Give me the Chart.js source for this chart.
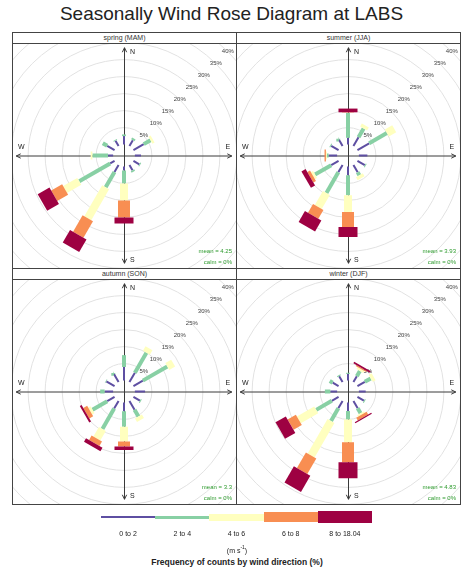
<!DOCTYPE html>
<html><head><meta charset="utf-8">
<script src="https://cdn.jsdelivr.net/npm/chart.js@4.4.1/dist/chart.umd.min.js"></script>
<style>
body{margin:0;width:463px;height:571px;background:#fff;font-family:"Liberation Sans",Arial,sans-serif;position:relative;overflow:hidden}
.abs{position:absolute}
#title{left:0;width:463px;top:3px;text-align:center;font-size:19px;line-height:22px;color:#222}
.strip{box-sizing:border-box;border:1px solid #444;text-align:center;font-size:7px;line-height:9px;color:#333;background:#fff}
.frame{box-sizing:border-box;border:1px solid #444;pointer-events:none}
canvas{position:absolute}
.lgbar{position:absolute}
.lglab{position:absolute;font-size:7px;color:#222;transform:translate(-50%,-50%);white-space:nowrap}
</style></head>
<body>
<div id="title" class="abs">Seasonally Wind Rose Diagram at LABS</div>
<div id="panels"></div>
<div id="legend"></div>
<script>
// ---------------- data ----------------
const directions = [0, 30, 60, 90, 120, 150, 180, 210, 240, 270, 300, 330];
const speedBins = ["0 to 2", "2 to 4", "4 to 6", "6 to 8", "8 to 18.04"];
const seasons = ["spring (MAM)", "summer (JJA)", "autumn (SON)", "winter (DJF)"];
const ringTicks = [5, 10, 15, 20, 25, 30, 35, 40];
const meanSpeed = ["4.25", "3.93", "3.3", "4.83"];
const calmPct = ["0%", "0%", "0%", "0%"];
// frequency (%) per direction (rows) and speed bin (columns)
const springFreq = [
  [2.5, 0.5, 0, 0, 0], [2.0, 0.6, 0, 0, 0], [3.5, 2.3, 0.7, 0, 0], [1.8, 0, 0, 0, 0],
  [2.0, 0.3, 0, 0, 0], [1.8, 0.5, 0, 0, 0], [1.2, 3.8, 5.0, 5.0, 1.8], [2.4, 5.2, 10.5, 5.6, 4.3],
  [1.5, 10.5, 4.8, 3.7, 4.0], [1.5, 4.6, 0.5, 0, 0], [2.5, 1.5, 0, 0, 0], [1.8, 0.3, 0, 0, 0]
];
const summerFreq = [
  [2.0, 7.3, 0.1, 0.1, 1.1], [3.0, 3.0, 1.0, 0, 0], [4.0, 6.0, 2.5, 0, 0], [2.5, 0, 0, 0, 0],
  [2.5, 0.3, 0, 0, 0], [2.5, 1.0, 1.0, 0, 0], [2.6, 5.9, 4.9, 4.4, 3.0], [2.5, 7.0, 4.8, 3.0, 3.7],
  [2.5, 5.5, 0.7, 0.9, 1.4], [2.5, 0.5, 0.3, 0.4, 0], [2.5, 0.3, 0, 0, 0], [2.2, 0.3, 0, 0, 0]
];
const autumnFreq = [
  [4.0, 3.5, 0, 0, 0], [3.2, 6.8, 1.5, 0, 0], [3.2, 8.3, 2.0, 0, 0], [3.0, 0, 0, 0, 0],
  [2.2, 0.3, 0, 0, 0], [3.0, 2.3, 1.2, 0, 0], [2.6, 4.6, 4.3, 1.5, 1.0], [2.6, 6.9, 3.3, 1.5, 1.2],
  [2.5, 5.0, 0.8, 1.3, 0.6], [2.5, 1.3, 0, 0, 0], [2.8, 0.2, 0, 0, 0], [2.8, 0.3, 0, 0, 0]
];
const winterFreq = [
  [2.0, 0.3, 0, 0, 0], [2.0, 1.8, 0.6, 0.4, 0.5], [2.5, 2.0, 1.0, 0, 0], [2.0, 0, 0, 0, 0],
  [2.2, 0.3, 0, 0, 0], [2.5, 1.7, 0.5, 0.9, 0.4], [2.5, 2.5, 6.7, 5.9, 4.7], [2.5, 4.3, 11.7, 5.3, 5.5],
  [2.3, 5.3, 5.9, 2.8, 3.5], [2.0, 1.6, 0, 0, 0], [2.0, 1.0, 0, 0, 0], [2.0, 0.3, 0, 0, 0]
];
const seasonFreq = [springFreq, summerFreq, autumnFreq, winterFreq];

// ---------------- style ----------------
const binColours = ["#5E4FA2", "#88D0A4", "#FFFFBF", "#F88E52", "#9E0142"];
const binWidths = [2, 4, 8, 12, 19];
const legendHeights = [2, 3, 7, 10, 12];
const HOLE = 3.2;        // centre offset (in % units)
const PPU = 3.4;         // pixels per %
const AXIS = 31.7;       // axis half length (% units)

const panelBoxes = [
  {x: 12, y: 32, w: 224, h: 236},
  {x: 236, y: 32, w: 224, h: 236},
  {x: 12, y: 268, w: 224, h: 236},
  {x: 236, y: 268, w: 224, h: 236}
];
const STRIP = 11;

const roseGrid = {
  id: 'roseGrid',
  beforeDatasetsDraw(chart) {
    const {ctx, chartArea: a, scales: {x, y}} = chart;
    const cx = x.getPixelForValue(0), cy = y.getPixelForValue(0);
    const ppu = x.getPixelForValue(1) - cx;
    ctx.save();
    ctx.beginPath(); ctx.rect(a.left, a.top, a.width, a.height); ctx.clip();
    ctx.strokeStyle = '#E2E2E2'; ctx.lineWidth = 1;
    ringTicks.forEach(t => {
      ctx.beginPath(); ctx.arc(cx, cy, (HOLE + t) * ppu, 0, Math.PI * 2); ctx.stroke();
    });
    // axes with arrows
    ctx.strokeStyle = '#3a3a3a'; ctx.lineWidth = 1;
    const L = AXIS * ppu;
    ctx.beginPath();
    ctx.moveTo(cx - L, cy + 0.5); ctx.lineTo(cx + L, cy + 0.5);
    ctx.moveTo(cx + 0.5, cy - L); ctx.lineTo(cx + 0.5, cy + L);
    const head = (tx, ty, ang) => {
      const h = 5, sp = 0.45;
      ctx.moveTo(tx, ty); ctx.lineTo(tx - h * Math.cos(ang - sp), ty - h * Math.sin(ang - sp));
      ctx.moveTo(tx, ty); ctx.lineTo(tx - h * Math.cos(ang + sp), ty - h * Math.sin(ang + sp));
    };
    head(cx + L, cy + 0.5, 0); head(cx - L, cy + 0.5, Math.PI);
    head(cx + 0.5, cy - L, -Math.PI / 2); head(cx + 0.5, cy + L, Math.PI / 2);
    ctx.stroke();
    ctx.fillStyle = '#222'; ctx.font = '7px "Liberation Sans", Arial, sans-serif';
    ctx.textBaseline = 'middle';
    ctx.textAlign = 'left';
    ctx.fillText('N', cx + 6, cy - L + 4);
    ctx.fillText('S', cx + 6, cy + L - 3);
    ctx.textAlign = 'center';
    ctx.fillText('W', cx - L + 5, cy - 8);
    ctx.fillText('E', cx + L - 4, cy - 8);
    // ring labels
    ctx.fillStyle = '#444'; ctx.font = '6px "Liberation Sans", Arial, sans-serif';
    ringTicks.forEach(t => {
      const r = (HOLE + t) * ppu / Math.SQRT2;
      ctx.fillText(t + '%', cx + r, cy - r);
    });
    ctx.restore();
  },
  afterDatasetsDraw(chart, args, opts) {
    const {ctx, chartArea: a} = chart;
    ctx.save();
    ctx.fillStyle = '#2E9B2E'; ctx.font = '6px "Liberation Sans", Arial, sans-serif';
    ctx.textAlign = 'right'; ctx.textBaseline = 'middle';
    ctx.fillText('mean = ' + opts.mean, a.right - 4, a.bottom - 17);
    ctx.fillText('calm = ' + opts.calm, a.right - 4, a.bottom - 6);
    ctx.restore();
  }
};

const panels = document.getElementById('panels');
seasons.forEach((name, s) => {
  const b = panelBoxes[s];
  const strip = document.createElement('div');
  strip.className = 'abs strip';
  Object.assign(strip.style, {left: b.x + 'px', top: b.y + 'px', width: (b.w + 1) + 'px', height: (STRIP + 1) + 'px'});
  strip.textContent = name;
  panels.appendChild(strip);
  const w = b.w, h = b.h - STRIP;
  const cv = document.createElement('canvas');
  cv.width = w; cv.height = h;
  Object.assign(cv.style, {left: b.x + 'px', top: (b.y + STRIP) + 'px', width: w + 'px', height: h + 'px'});
  panels.appendChild(cv);
  const fr = document.createElement('div');
  fr.className = 'abs frame';
  Object.assign(fr.style, {left: b.x + 'px', top: (b.y + STRIP) + 'px', width: (w + 1) + 'px', height: (h + 1) + 'px'});
  panels.appendChild(fr);

  const datasets = [];
  directions.forEach((d, i) => {
    const th = d * Math.PI / 180;
    let r0 = HOLE;
    seasonFreq[s][i].forEach((f, k) => {
      if (f <= 0) return;
      const r1 = r0 + f;
      datasets.push({
        data: [{x: r0 * Math.sin(th), y: r0 * Math.cos(th)}, {x: r1 * Math.sin(th), y: r1 * Math.cos(th)}],
        showLine: true, borderColor: binColours[k], borderWidth: binWidths[k],
        borderCapStyle: 'butt', pointRadius: 0, fill: false, order: 5 - k
      });
      r0 = r1;
    });
  });
  new Chart(cv, {
    type: 'scatter',
    data: {datasets},
    options: {
      responsive: false, animation: false, devicePixelRatio: 1, events: [],
      layout: {padding: 0},
      plugins: {legend: {display: false}, tooltip: {enabled: false},
        roseGrid: {mean: meanSpeed[s], calm: calmPct[s]}},
      scales: {
        x: {type: 'linear', display: false, min: -w / 2 / PPU, max: w / 2 / PPU},
        y: {type: 'linear', display: false, min: -h / 2 / PPU, max: h / 2 / PPU}
      }
    },
    plugins: [roseGrid]
  });
});

// legend
const lg = document.getElementById('legend');
const lgX = 101, lgW = 54.2, lgY = 517;
speedBins.forEach((lab, k) => {
  const bar = document.createElement('div');
  bar.className = 'lgbar';
  Object.assign(bar.style, {left: (lgX + k * lgW) + 'px', top: (lgY - legendHeights[k] / 2) + 'px',
    width: lgW + 'px', height: legendHeights[k] + 'px', background: binColours[k]});
  lg.appendChild(bar);
  const t = document.createElement('div');
  t.className = 'lglab';
  t.style.left = (lgX + (k + 0.5) * lgW) + 'px'; t.style.top = '533px';
  t.textContent = lab;
  lg.appendChild(t);
});
const unit = document.createElement('div');
unit.className = 'lglab'; unit.style.left = '237px'; unit.style.top = '549px';
unit.innerHTML = '(m s<sup style="font-size:5px">-1</sup>)';
lg.appendChild(unit);
const cap = document.createElement('div');
cap.className = 'lglab'; cap.style.left = '237px'; cap.style.top = '562px';
cap.style.fontSize = '8.5px'; cap.style.fontWeight = 'bold';
cap.textContent = 'Frequency of counts by wind direction (%)';
lg.appendChild(cap);
</script>
</body></html>
